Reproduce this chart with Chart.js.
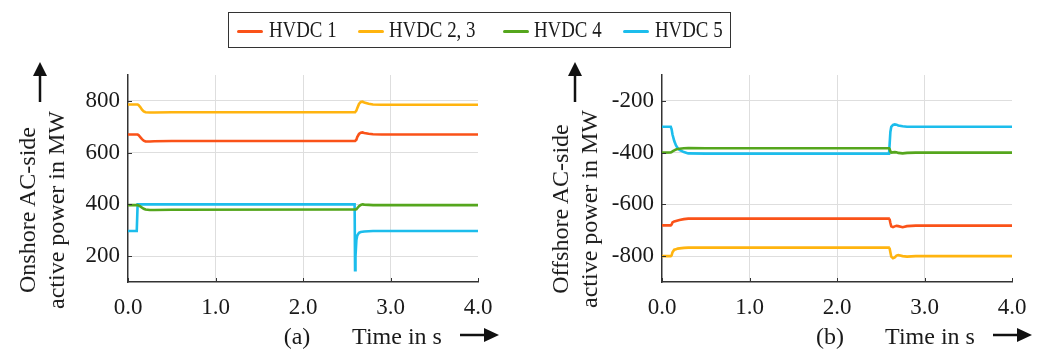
<!DOCTYPE html>
<html>
<head>
<meta charset="utf-8">
<script src="https://cdn.jsdelivr.net/npm/chart.js@4.4.0/dist/chart.umd.min.js"></script>
<style>
  body { margin: 0; background: #fff; }
  #page { position: relative; width: 1043px; height: 350px; overflow: hidden; font-family: 'Liberation Serif', 'DejaVu Serif', serif; color: #1a1a1a; }
  .box { position: absolute; }
  .legend { position: absolute; left: 228px; top: 12px; width: 503px; height: 36px; border: 1.5px solid #333; box-sizing: border-box; }
  .legend .sw { position: absolute; top: 17px; width: 26px; height: 3px; border-radius: 2px; }
  .legend .lb { position: absolute; top: 3px; font-size: 23px; line-height: 28px; white-space: nowrap; transform: scaleX(0.82); transform-origin: left center; }
  .ytitle { position: absolute; font-size: 24px; line-height: 29px; text-align: center; white-space: nowrap; transform: translate(-50%, -50%) rotate(-90deg); }
  .xlab { position: absolute; font-size: 24px; line-height: 28px; white-space: nowrap; transform: translate(-50%, -50%); }
  svg { position: absolute; left: 0; top: 0; }
</style>
</head>
<body>
<div id="page">
  <div class="box" style="left:0;top:0;width:521px;height:350px"><canvas id="left"></canvas></div>
  <div class="box" style="left:521px;top:0;width:522px;height:350px"><canvas id="right"></canvas></div>

  <div class="legend" id="legend"></div>

  <div class="ytitle" style="left:42px;top:210px">Onshore AC-side<br>active power in MW</div>
  <div class="ytitle" style="left:575px;top:209px">Offshore AC-side<br>active power in MW</div>

  <div class="xlab" style="left:297px;top:336px">(a)</div>
  <div class="xlab" style="left:397px;top:336px">Time in s</div>
  <div class="xlab" style="left:830px;top:336px">(b)</div>
  <div class="xlab" style="left:930px;top:336px">Time in s</div>

  <svg width="1043" height="350">
    <g stroke="#111" stroke-width="2.5" fill="#111">
      <line x1="40" y1="102" x2="40" y2="74"/><polygon points="33,76 47,76 40,62" stroke="none"/>
      <line x1="575" y1="102" x2="575" y2="74"/><polygon points="568,76 582,76 575,62" stroke="none"/>
      <line x1="460" y1="335" x2="486" y2="335"/><polygon points="484,328 484,342 499,335" stroke="none"/>
      <line x1="993" y1="335" x2="1019" y2="335"/><polygon points="1017,328 1017,342 1032,335" stroke="none"/>
    </g>
  </svg>
</div>

<script>
// time axis (s), shared by all series
const time = [0, 0.10, 0.11, 0.12, 0.14, 0.16, 0.18, 0.20, 0.25, 0.30, 0.50, 2.59, 2.595, 2.60, 2.61, 2.62, 2.64, 2.66, 2.68, 2.70, 2.75, 2.80, 2.90, 4.0];

// onshore AC-side active power in MW
const onHvdc1  = [670, 670, 670, 668, 660, 652, 646, 643, 643, 644, 645, 645, 645, 645, 650, 660, 672, 677, 678, 676, 673, 671, 670, 670];
const onHvdc23 = [786, 786, 786, 784, 776, 766, 759, 756, 755, 755, 756, 756, 756, 756, 762, 772, 788, 796, 797, 794, 789, 786, 785, 785];
const onHvdc4  = [397, 397, 397, 396, 392, 387, 383, 380, 378, 378, 379, 380, 380, 380, 381, 385, 393, 398, 400, 399, 398, 397, 397, 397];
const onHvdc5  = [297, 297, 400, 400, 400, 400, 400, 400, 400, 400, 400, 400, 146, 200, 262, 280, 290, 293, 294, 295, 296, 297, 297, 297];

// offshore AC-side active power in MW
const offHvdc1  = [-681, -681, -678, -670, -666, -664, -662, -660, -657, -655, -655, -655, -655, -656, -672, -685, -688, -685, -683, -684, -688, -684, -682, -682];
const offHvdc23 = [-800, -800, -797, -785, -775, -773, -771, -770, -768, -767, -767, -767, -767, -768, -785, -802, -808, -805, -798, -796, -800, -802, -800, -800];
const offHvdc4  = [-400, -399, -398, -395, -391, -388, -386, -385, -383, -382, -383, -383, -383, -385, -395, -400, -399, -398, -399, -401, -403, -401, -400, -400];
const offHvdc5  = [-300, -300, -310, -330, -355, -372, -383, -390, -398, -403, -404, -404, -404, -404, -320, -300, -293, -291, -292, -295, -298, -300, -300, -300];

const seriesNames = ['HVDC 1', 'HVDC 2, 3', 'HVDC 4', 'HVDC 5'];
const seriesColors = ['#FA5218', '#FFB40F', '#55A61D', '#1CBDEC'];

const xTicks = [0, 1, 2, 3, 4];
const yTicksOn = [200, 400, 600, 800];
const yTicksOff = [-800, -600, -400, -200];

// html legend
const legendEl = document.getElementById('legend');
const swatchX = [8, 129, 274, 394];
const labelX = [40, 160, 305, 426];
seriesNames.forEach((name, i) => {
  const sw = document.createElement('div');
  sw.className = 'sw';
  sw.style.left = swatchX[i] + 'px';
  sw.style.background = seriesColors[i];
  legendEl.appendChild(sw);
  const lb = document.createElement('div');
  lb.className = 'lb';
  lb.style.left = labelX[i] + 'px';
  lb.textContent = name;
  legendEl.appendChild(lb);
});

// small inward tick marks on the axes
const innerTicks = {
  id: 'innerTicks',
  afterDatasetsDraw(chart) {
    const { ctx, chartArea, scales } = chart;
    ctx.save();
    ctx.strokeStyle = '#333';
    ctx.lineWidth = 1;
    scales.y.ticks.forEach(t => {
      const y = Math.round(scales.y.getPixelForValue(t.value)) + 0.5;
      ctx.beginPath(); ctx.moveTo(chartArea.left, y); ctx.lineTo(chartArea.left + 4, y); ctx.stroke();
    });
    scales.x.ticks.forEach(t => {
      const x = Math.round(scales.x.getPixelForValue(t.value)) + 0.5;
      ctx.beginPath(); ctx.moveTo(x, chartArea.bottom); ctx.lineTo(x, chartArea.bottom - 4); ctx.stroke();
    });
    ctx.restore();
  }
};

function makeChart(id, values, yMin, yMax, yTicks, yWidth, padRight) {
  const datasets = values.map((vals, i) => ({
    label: seriesNames[i],
    data: time.map((t, k) => ({ x: t, y: vals[k] })),
    borderColor: seriesColors[i],
    backgroundColor: seriesColors[i],
    borderWidth: 2.6,
    pointRadius: 0,
    tension: 0,
    fill: false
  }));

  const tickFont = { family: "'Liberation Serif', serif", size: 23 };

  return new Chart(document.getElementById(id), {
    type: 'line',
    data: { datasets },
    options: {
      responsive: true,
      maintainAspectRatio: false,
      animation: false,
      layout: { padding: { left: 0, right: padRight, top: 75, bottom: 26 } },
      plugins: { legend: { display: false }, tooltip: { enabled: false } },
      scales: {
        x: {
          type: 'linear',
          min: 0,
          max: 4,
          afterBuildTicks: s => { s.ticks = xTicks.map(v => ({ value: v })); },
          afterFit: s => { s.height = 42; },
          ticks: { font: tickFont, color: '#1a1a1a', padding: 12, maxRotation: 0, callback: v => v.toFixed(1) },
          grid: {
            drawTicks: false,
            color: c => (c.tick && (c.tick.value === 0 || c.tick.value === 4)) ? 'rgba(0,0,0,0)' : '#dedede',
            lineWidth: 1
          },
          border: { color: '#333', width: 1.5 }
        },
        y: {
          min: yMin,
          max: yMax,
          afterBuildTicks: s => { s.ticks = yTicks.map(v => ({ value: v })); },
          afterFit: s => { s.width = yWidth; },
          ticks: { font: tickFont, color: '#1a1a1a', padding: 8 },
          grid: { drawTicks: false, color: '#dedede', lineWidth: 1 },
          border: { color: '#333', width: 1.5 }
        }
      }
    },
    plugins: [innerTicks]
  });
}

makeChart('left', [onHvdc1, onHvdc23, onHvdc4, onHvdc5], 100, 900, yTicksOn, 128, 43);
makeChart('right', [offHvdc1, offHvdc23, offHvdc4, offHvdc5], -900, -100, yTicksOff, 141, 31);
</script>
</body>
</html>
